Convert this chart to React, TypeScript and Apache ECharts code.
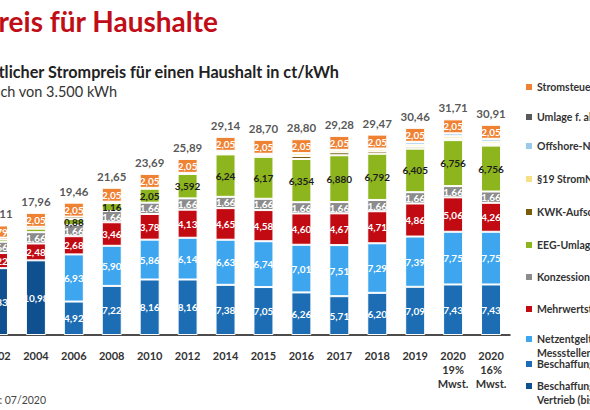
import React, { useEffect, useRef } from 'react';
import * as echarts from 'echarts';

// The drawing surface runs past the left edge of the 590px frame.
const OFFSET = 40;
const FONT = 'Lato, "Open Sans", sans-serif';

const categories = [
  '2002', '2004', '2006', '2008', '2010', '2012', '2014', '2015', '2016',
  '2017', '2018', '2019', '2020\n19%\nMwst.', '2020\n16%\nMwst.',
];

// ct/kWh per component, bottom of the stack first
const beschaffungNetzVertrieb = [9.83, 10.98, null, null, null, null, null, null, null, null, null, null, null, null];
const beschaffungVertrieb = [null, null, 4.92, 7.22, 8.16, 8.16, 7.38, 7.05, 6.26, 5.71, 6.2, 7.09, 7.43, 7.43];
const netzentgelt = [null, null, 6.93, 5.9, 5.86, 6.14, 6.63, 6.74, 7.01, 7.51, 7.29, 7.39, 7.75, 7.75];
const mehrwertsteuer = [2.22, 2.48, 2.68, 3.46, 3.78, 4.13, 4.65, 4.58, 4.6, 4.67, 4.71, 4.86, 5.06, 4.26];
const konzessionsabgabe = [1.66, 1.66, 1.66, 1.66, 1.66, 1.66, 1.66, 1.66, 1.66, 1.66, 1.66, 1.66, 1.66, 1.66];
const eegUmlage = [0.35, 0.51, 0.88, 1.16, 2.05, 3.592, 6.24, 6.17, 6.354, 6.88, 6.792, 6.405, 6.756, 6.756];
const eegDecimals = [2, 2, 2, 2, 2, 3, 2, 2, 3, 3, 3, 3, 3, 3];
const kwkAufschlag = [0.26, 0.28, 0.34, 0.2, 0.13, 0.002, 0.178, 0.254, 0.445, 0.438, 0.345, 0.28, 0.226, 0.226];
const strom19Umlage = [null, null, null, null, null, 0.156, 0.092, 0.19, 0.378, 0.356, 0.375, 0.304, 0.355, 0.355];
const offshoreUmlage = [null, null, null, null, null, null, 0.25, null, 0.04, null, 0.037, 0.416, 0.416, 0.416];
const abLaUmlage = [null, null, null, null, null, null, 0.01, 0.006, 0.003, 0.006, 0.011, 0.005, 0.007, 0.007];
const stromsteuer = [1.79, 2.05, 2.05, 2.05, 2.05, 2.05, 2.05, 2.05, 2.05, 2.05, 2.05, 2.05, 2.05, 2.05];

const fmt = (v: number, d = 2) => v.toFixed(d).replace('.', ',');

type Seg = {
  name: string;
  legend: string;
  data: (number | null)[];
  color: string;
  label: 'white' | 'eeg' | 'none';
};

const segments: Seg[] = [
  { name: 'Beschaffung, Netzentgelt, Vertrieb (bis 2005)', legend: 'Beschaffung, Netzentgelt,\nVertrieb (bis 2005)', data: beschaffungNetzVertrieb, color: '#0f5190', label: 'white' },
  { name: 'Beschaffung, Vertrieb', legend: 'Beschaffung, Vertrieb', data: beschaffungVertrieb, color: '#1c6db4', label: 'white' },
  { name: 'Netzentgelt, Messstellenbetrieb', legend: 'Netzentgelt,\nMessstellenbetrieb', data: netzentgelt, color: '#3ea6ee', label: 'white' },
  { name: 'Mehrwertsteuer', legend: 'Mehrwertsteuer', data: mehrwertsteuer, color: '#c10a12', label: 'white' },
  { name: 'Konzessionsabgabe', legend: 'Konzessionsabgabe', data: konzessionsabgabe, color: '#8c8c8c', label: 'white' },
  { name: 'EEG-Umlage', legend: 'EEG-Umlage', data: eegUmlage, color: '#8db51e', label: 'eeg' },
  { name: 'KWK-Aufschlag', legend: 'KWK-Aufschlag', data: kwkAufschlag, color: '#7a5c0a', label: 'none' },
  { name: '§19 StromNEV-Umlage', legend: '§19 StromNEV-Umlage', data: strom19Umlage, color: '#f7df86', label: 'none' },
  { name: 'Offshore-Netzumlage', legend: 'Offshore-Netzumlage', data: offshoreUmlage, color: '#9cc9ea', label: 'none' },
  { name: 'Umlage f. abschaltbare Lasten', legend: 'Umlage f. abschaltbare Lasten', data: abLaUmlage, color: '#595959', label: 'none' },
  { name: 'Stromsteuer', legend: 'Stromsteuer', data: stromsteuer, color: '#ef8133', label: 'white' },
];

const totals = categories.map((_, i) =>
  Math.round(segments.reduce((s, seg) => s + (seg.data[i] ?? 0), 0) * 1000) / 1000
);

// legend rows, top to bottom: series index and y of the first text line
const legendRows: [number, number][] = [
  [10, 87], [9, 117], [8, 146], [7, 179], [6, 212], [5, 245],
  [4, 277], [3, 309], [2, 339], [1, 364], [0, 386],
];

function buildOption() {
  const series: any[] = segments.map((seg) => ({
    type: 'bar',
    name: seg.name,
    stack: 'preis',
    barWidth: 20,
    data: seg.data,
    itemStyle: { color: seg.color, borderColor: '#ffffff', borderWidth: 1 },
    label: {
      show: seg.label !== 'none',
      position: 'inside',
      fontFamily: FONT,
      fontSize: 10,
      fontWeight: 'bold',
      color: seg.label === 'eeg' ? '#1d1d1d' : '#ffffff',
      formatter: (p: any) => {
        if (p.value == null) return '';
        if (seg.label === 'eeg') {
          return p.value >= 0.8 ? fmt(p.value, eegDecimals[p.dataIndex]) : '';
        }
        return fmt(p.value);
      },
    },
  }));

  series.push({
    type: 'scatter',
    name: 'Summe',
    data: totals,
    symbolSize: 1,
    itemStyle: { color: 'rgba(0,0,0,0)' },
    z: 5,
    label: {
      show: true,
      position: 'top',
      distance: 5,
      fontFamily: FONT,
      fontSize: 11.5,
      fontWeight: 'bold',
      color: '#2b2b2b',
      formatter: (p: any) => fmt(p.value),
    },
  });

  const graphic: any[] = [
    {
      type: 'text', x: 218 + OFFSET, y: 21,
      style: {
        text: 'Strompreis für Haushalte', fill: '#c00d17',
        font: `bold 28px ${FONT}`, textAlign: 'right', textVerticalAlign: 'middle',
        align: 'right', verticalAlign: 'middle',
      },
    },
    {
      type: 'text', x: 339 + OFFSET, y: 71,
      style: {
        text: 'Durchschnittlicher Strompreis für einen Haushalt in ct/kWh', fill: '#222222',
        font: `bold 16.2px ${FONT}`, textAlign: 'right', textVerticalAlign: 'middle',
        align: 'right', verticalAlign: 'middle',
      },
    },
    {
      type: 'text', x: 117 + OFFSET, y: 91,
      style: {
        text: 'Jahresverbrauch von 3.500 kWh', fill: '#333333',
        font: `14.5px ${FONT}`, textAlign: 'right', textVerticalAlign: 'middle',
        align: 'right', verticalAlign: 'middle',
      },
    },
    {
      type: 'text', x: 46 + OFFSET, y: 400,
      style: {
        text: 'Quelle: BDEW; Stand: 07/2020', fill: '#444444',
        font: `10.5px ${FONT}`, textAlign: 'right', textVerticalAlign: 'middle',
        align: 'right', verticalAlign: 'middle',
      },
    },
  ];

  legendRows.forEach(([idx, y]) => {
    const seg = segments[idx];
    graphic.push({
      type: 'rect',
      shape: { x: 526 + OFFSET, y: y - 3, width: 6, height: 6 },
      style: { fill: seg.color },
    });
    graphic.push({
      type: 'text', x: 537 + OFFSET, y: y - 7,
      style: {
        text: seg.legend, fill: '#333333',
        font: `bold 10.5px ${FONT}`, lineHeight: 14,
        textAlign: 'left', textVerticalAlign: 'top',
        align: 'left', verticalAlign: 'top',
      },
    });
  });

  return {
    animation: false,
    backgroundColor: '#ffffff',
    grid: {
      left: 19, right: 80, top: 63, bottom: 75,
      containLabel: false,
      outerBoundsMode: 'none',
    },
    xAxis: {
      type: 'category',
      data: categories,
      axisLine: { lineStyle: { color: '#111111', width: 1.5 } },
      axisTick: { show: false },
      axisLabel: {
        interval: 0,
        margin: 13,
        fontFamily: FONT,
        fontSize: 11,
        fontWeight: 'bold',
        color: '#333333',
        lineHeight: 14,
      },
    },
    yAxis: {
      type: 'value',
      min: 0,
      max: 40,
      show: false,
      splitLine: { show: false },
    },
    series,
    graphic,
  };
}

export default function App() {
  const ref = useRef<HTMLDivElement>(null);

  useEffect(() => {
    if (!ref.current) return;
    const chart = echarts.init(ref.current, undefined, { renderer: 'svg' });
    chart.setOption(buildOption());
    return () => chart.dispose();
  }, []);

  return (
    <div
      style={{
        position: 'fixed', left: 0, top: 0, width: 590, height: 410,
        overflow: 'hidden', background: '#ffffff',
      }}
    >
      <div
        ref={ref}
        style={{ position: 'absolute', left: -OFFSET, top: 0, width: 590 + OFFSET, height: 410 }}
      />
    </div>
  );
}
